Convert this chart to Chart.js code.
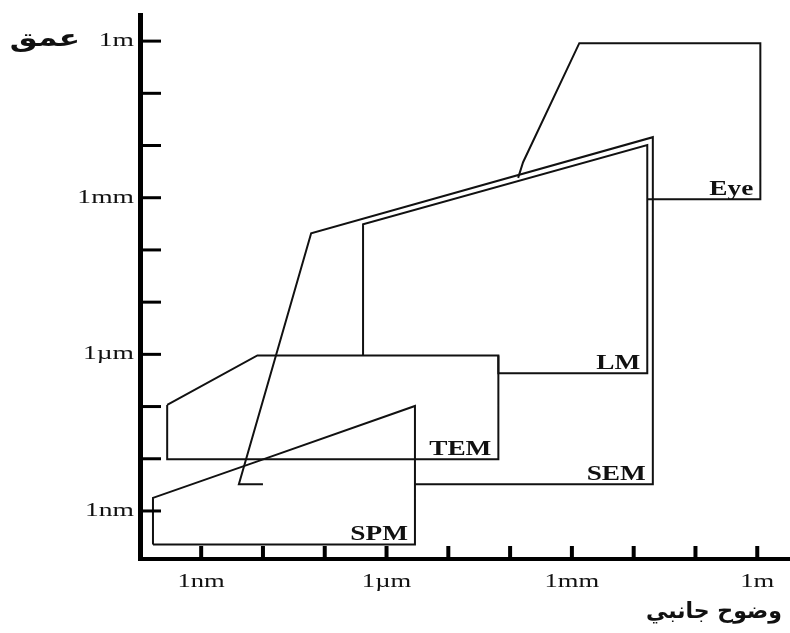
<!DOCTYPE html>
<html>
<head>
<meta charset="utf-8">
<script src="https://cdn.jsdelivr.net/npm/chart.js@4.4.0/dist/chart.umd.min.js"></script>
<style>
    html, body { margin: 0; padding: 0; background: #fff; }
    #wrap { width: 790px; height: 633px; }
</style>
</head>
<body>
<div id="wrap"><canvas id="myChart"></canvas></div>
<script>
// all values are log10 of metres (lateral resolution on x, depth on y)
const decades = [-9, -8, -7, -6, -5, -4, -3, -2, -1, 0]
const tickLabels = ['1nm', '', '', '1\u00b5m', '', '', '1mm', '', '', '1m']

const eyeX = [-1.77, 0.05, 0.05, -2.88, -3.79, -3.87]
const eyeY = [-3.03, -3.03, -0.04, -0.04, -2.32, -2.62]

const lmX = [-6.38, -6.38, -1.78, -1.78, -4.19, -4.19]
const lmY = [-6.02, -3.51, -1.99, -6.36, -6.36, -6.02]

const semX = [-5.54, -1.69, -1.69, -7.22, -8.39, -8.0]
const semY = [-8.49, -8.49, -1.84, -3.68, -8.49, -8.49]

const temX = [-9.55, -8.09, -4.19, -4.19, -9.55, -9.55]
const temY = [-6.97, -6.02, -6.02, -8.01, -8.01, -6.97]

const spmX = [-9.78, -9.78, -8.09, -5.54, -5.54, -9.78]
const spmY = [-9.64, -8.75, -8.05, -6.99, -9.64, -9.64]

const regionNames = ['Eye', 'LM', 'SEM', 'TEM', 'SPM']
const regions = [[eyeX, eyeY], [lmX, lmY], [semX, semY], [temX, temY], [spmX, spmY]]

const yTitle = '\u0639\u0645\u0642'
const xTitle = '\u0648\u0636\u0648\u062d \u062c\u0627\u0646\u0628\u064a'


const toPoints = (xs, ys) => xs.map((v, i) => ({ x: v, y: ys[i] }))

// scanned figure is stretched sideways, so text is widened too
const wideText = (ctx, text, px, py, sx, align) => {
    ctx.save()
    ctx.translate(px, py)
    ctx.scale(sx, 1)
    ctx.textAlign = align
    ctx.fillText(text, 0, 0)
    ctx.restore()
}

const axisDecor = {
    id: 'axisDecor',
    afterDraw(chart) {
        const { ctx, chartArea, scales } = chart
        const x = scales.x
        const y = scales.y
        ctx.save()
        ctx.strokeStyle = '#000'
        ctx.fillStyle = '#111'

        // tick marks point inwards
        ctx.lineWidth = 4
        x.ticks.forEach(t => {
            const px = x.getPixelForValue(t.value)
            ctx.beginPath()
            ctx.moveTo(px, chartArea.bottom)
            ctx.lineTo(px, chartArea.bottom - 13)
            ctx.stroke()
        })
        ctx.lineWidth = 3
        y.ticks.forEach(t => {
            const py = y.getPixelForValue(t.value)
            ctx.beginPath()
            ctx.moveTo(chartArea.left, py)
            ctx.lineTo(chartArea.left + 21, py)
            ctx.stroke()
        })

        // tick labels
        ctx.font = '19px "Liberation Serif"'
        ctx.textBaseline = 'middle'
        x.ticks.forEach(t => {
            const label = tickLabels[decades.indexOf(t.value)]
            if (label) wideText(ctx, label, x.getPixelForValue(t.value), chartArea.bottom + 23, 1.4, 'center')
        })
        y.ticks.forEach(t => {
            const label = tickLabels[decades.indexOf(t.value)]
            if (label) wideText(ctx, label, chartArea.left - 6, y.getPixelForValue(t.value), 1.45, 'right')
        })

        // region names in the lower right corner of each box
        ctx.font = 'bold 21px "Liberation Serif"'
        ctx.textBaseline = 'alphabetic'
        regions.forEach((r, i) => {
            const px = x.getPixelForValue(Math.max(...r[0]))
            const py = y.getPixelForValue(Math.min(...r[1]))
            wideText(ctx, regionNames[i], px - 7, py - 4, 1.3, 'right')
        })

        // axis titles
        ctx.font = 'bold 24px "DejaVu Sans"'
        ctx.textBaseline = 'middle'
        wideText(ctx, yTitle, 45, 40, 1.3, 'center')
        ctx.font = 'bold 22px "DejaVu Sans"'
        wideText(ctx, xTitle, 714, 612, 1.0, 'center')
        ctx.restore()
    }
}

const axisOpts = (lo, hi, bw) => ({
    type: 'linear',
    min: lo,
    max: hi,
    afterBuildTicks: (scale) => { scale.ticks = decades.map(v => ({ value: v })) },
    ticks: { display: false },
    grid: { display: false, drawTicks: false, tickLength: 0 },
    border: { display: true, color: '#000', width: bw }
})

const config = {
    type: 'scatter',
    data: {
        datasets: regions.map((r, i) => ({
            label: regionNames[i],
            data: toPoints(r[0], r[1]),
            showLine: true,
            borderColor: '#111',
            borderWidth: 2,
            pointRadius: 0,
            fill: false,
            tension: 0
        }))
    },
    options: {
        responsive: true,
        maintainAspectRatio: false,
        animation: false,
        layout: { padding: { left: 140, top: 15, right: 0, bottom: 74 } },
        plugins: {
            legend: { display: false },
            tooltip: { enabled: false }
        },
        scales: {
            x: axisOpts(-9.99, 0.53, 4),
            y: axisOpts(-9.92, 0.5, 5)
        }
    },
    plugins: [axisDecor]
}

const myChart = new Chart(document.getElementById('myChart'), config)
</script>
</body>
</html>
